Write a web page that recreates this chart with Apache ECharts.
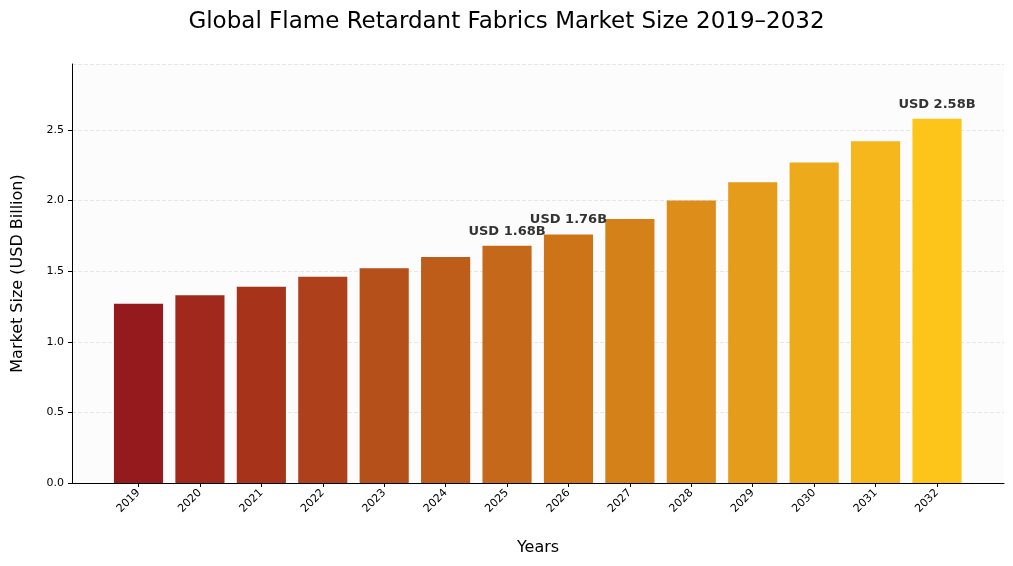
<!DOCTYPE html><html><head><meta charset="utf-8">
<script src="https://cdn.jsdelivr.net/npm/echarts@6/dist/echarts.min.js"></script>
<style>html,body{margin:0;background:#fff}#c{width:1013px;height:566px}</style></head><body><div id="c"></div>
<script>
const years=['2019','2020','2021','2022','2023','2024','2025','2026','2027','2028','2029','2030','2031','2032'];
const values=[1.27,1.33,1.39,1.46,1.52,1.60,1.68,1.76,1.87,2.00,2.13,2.27,2.42,2.58];
const colors=['#951a1d','#a0281c','#a8331b','#ae411b','#b5501a','#bd5d19','#c56819','#cd7419','#d5811a','#dd8e1a','#e59c1b','#edaa1b','#f5b71b','#fdc51a'];
const labeled={'2025':'USD 1.68B','2026':'USD 1.76B','2032':'USD 2.58B'};
const ch=echarts.init(document.getElementById('c'));
const yMax=2.967;
ch.setOption({
 animation:false,
 title:{text:'Global Flame Retardant Fabrics Market Size 2019–2032',left:'center',top:6,textStyle:{fontSize:23,fontWeight:'normal',color:'#000',fontFamily:'DejaVu Sans'}},
 grid:[{left:72,right:9,top:64,bottom:83,show:true,backgroundColor:'#fcfcfc',borderWidth:0},
       {left:107.8,right:45.3,top:64,bottom:83}],
 xAxis:[{type:'value',gridIndex:0,min:0,max:1,axisLine:{show:true,lineStyle:{color:'#000'}},axisTick:{show:false},axisLabel:{show:false},splitLine:{show:false},
   name:'Years',nameLocation:'middle',nameGap:57,nameTextStyle:{fontSize:16,color:'#000',fontFamily:'DejaVu Sans'}},
  {type:'category',gridIndex:1,data:years,axisLine:{show:false},axisTick:{show:true,alignWithLabel:true,lineStyle:{color:'#000'},length:4},
   axisLabel:{rotate:45,color:'#000',fontSize:11,margin:8,fontFamily:'DejaVu Sans'}}],
 yAxis:[{type:'value',gridIndex:0,min:0,max:yMax,interval:0.5,axisLine:{show:true,lineStyle:{color:'#000'}},axisTick:{show:true,length:4,lineStyle:{color:'#000'}},
   axisLabel:{showMaxLabel:false,color:'#000',fontSize:11,formatter:v=>v.toFixed(1),fontFamily:'DejaVu Sans'},
   splitLine:{show:true,lineStyle:{color:'#e6e6e6',type:'dashed'}},
   name:'Market Size (USD Billion)',nameLocation:'middle',nameGap:46,nameTextStyle:{fontSize:16,color:'#000',fontFamily:'DejaVu Sans'}},
  {type:'value',gridIndex:1,min:0,max:yMax,show:false}],
 series:[{type:'bar',xAxisIndex:1,yAxisIndex:1,barWidth:'80%',
  data:values.map((v,i)=>({value:v,itemStyle:{color:colors[i]},
    label:{show:!!labeled[years[i]],position:'top',distance:8,formatter:labeled[years[i]]||'',fontWeight:'bold',fontSize:13,color:'#333',fontFamily:'DejaVu Sans'}}))}]
});
</script></body></html>
